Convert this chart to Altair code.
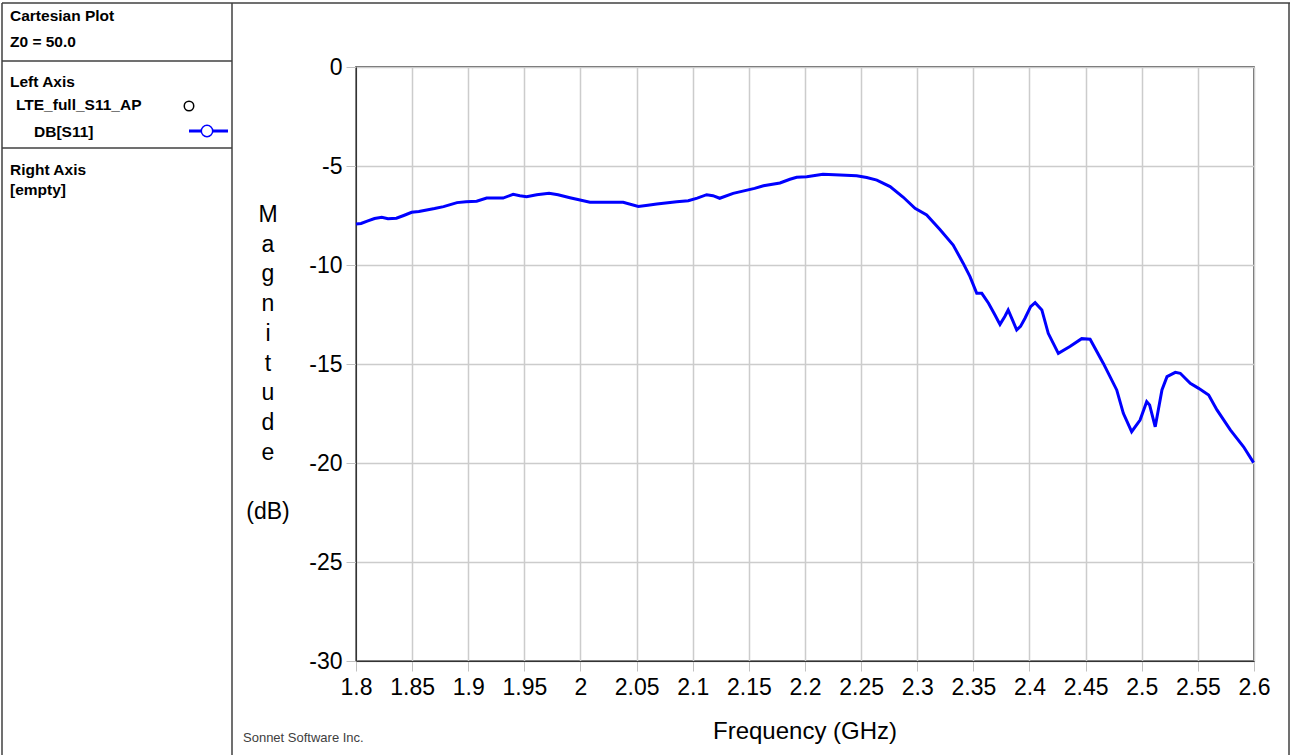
import altair as alt
import pandas as pd

# S11 magnitude of LTE_full_S11_AP, frequency in GHz, magnitude in dB
freq_ghz = [
    1.800, 1.8045, 1.810, 1.8165, 1.823, 1.8285, 1.836, 1.8425, 1.8496, 1.856,
    1.863, 1.870, 1.878, 1.884, 1.890, 1.898, 1.9075, 1.9164, 1.924, 1.931,
    1.940, 1.946, 1.952, 1.961, 1.972, 1.980, 1.9906, 1.9966, 2.0084, 2.020,
    2.038, 2.0515, 2.060, 2.068, 2.0857, 2.096, 2.104, 2.1124, 2.118, 2.124,
    2.136, 2.1551, 2.163, 2.1777, 2.1866, 2.1926, 2.2015, 2.216, 2.2312, 2.246,
    2.255, 2.264, 2.2758, 2.2876, 2.298, 2.3084, 2.32, 2.332, 2.341, 2.347,
    2.353, 2.3575, 2.3635, 2.369, 2.3737, 2.378, 2.381, 2.385, 2.3886, 2.392,
    2.396, 2.401, 2.405, 2.411, 2.4167, 2.4257, 2.436, 2.4465, 2.454, 2.4658,
    2.4777, 2.4836, 2.491, 2.4985, 2.5044, 2.507, 2.512, 2.518, 2.5225, 2.5299,
    2.5343, 2.5432, 2.5507, 2.5596, 2.567, 2.5789, 2.5907, 2.5996,
]
s11_db = [
    -7.93, -7.90, -7.78, -7.65, -7.59, -7.66, -7.64, -7.50, -7.34, -7.30,
    -7.22, -7.15, -7.05, -6.95, -6.85, -6.80, -6.78, -6.62, -6.62, -6.62,
    -6.43, -6.50, -6.55, -6.45, -6.38, -6.45, -6.60, -6.68, -6.83, -6.83,
    -6.83, -7.04, -6.98, -6.92, -6.80, -6.75, -6.62, -6.45, -6.50, -6.63,
    -6.38, -6.13, -6.00, -5.86, -5.67, -5.57, -5.54, -5.42, -5.45, -5.49,
    -5.58, -5.71, -6.04, -6.58, -7.14, -7.47, -8.20, -8.99, -9.92, -10.59,
    -11.43, -11.43, -11.93, -12.50, -13.00, -12.60, -12.27, -12.80, -13.28, -13.10,
    -12.69, -12.10, -11.90, -12.27, -13.45, -14.46, -14.12, -13.72, -13.75, -14.97,
    -16.31, -17.49, -18.42, -17.83, -16.90, -17.07, -18.17, -16.31, -15.64, -15.42,
    -15.47, -15.98, -16.23, -16.57, -17.32, -18.33, -19.18, -19.98,
]

x_ticks = [1.8, 1.85, 1.9, 1.95, 2.0, 2.05, 2.1, 2.15, 2.2, 2.25,
           2.3, 2.35, 2.4, 2.45, 2.5, 2.55, 2.6]
y_ticks = [0, -5, -10, -15, -20, -25, -30]

W, H = 898, 594          # plot area
LEFT, TOP = 356, 67      # plot area offset inside the page
FONT = "Liberation Sans"

df = pd.DataFrame({"freq": freq_ghz, "db": s11_db})

axis_style = dict(title=None, labelFontSize=23, labelFont=FONT,
                  labelColor="black", tickSize=10, tickColor="#c0c0c0",
                  domainColor="#333333", gridColor="#cccccc", gridWidth=1.5,
                  labelFlush=False)

curve = alt.Chart(df).mark_line(color="#0000ff", strokeWidth=3).encode(
    x=alt.X("freq:Q",
            scale=alt.Scale(domain=[1.8, 2.6], nice=False, zero=False),
            axis=alt.Axis(values=x_ticks, format=".2~f", labelPadding=5,
                          **axis_style)),
    y=alt.Y("db:Q",
            scale=alt.Scale(domain=[-30, 0], nice=False),
            axis=alt.Axis(values=y_ticks, labelExpr="'' + datum.value",
                          labelPadding=4, **axis_style)),
)

one_row = alt.Data(values=[{}])


def px(x):
    return x - LEFT


def py(y):
    return y - TOP


def label(text, x, y, size=15.5, bold=True, align="left",
          baseline="alphabetic", color="black", line_height=None):
    kw = dict(align=align, baseline=baseline, fontSize=size,
              fontWeight="bold" if bold else "normal", font=FONT, color=color)
    if line_height is not None:
        kw["lineHeight"] = line_height
    return alt.Chart(one_row).mark_text(**kw).encode(
        x=alt.value(px(x)), y=alt.value(py(y)), text=alt.value(text))


def hline(x1, x2, y, color="#404040", width=1.5):
    return alt.Chart(one_row).mark_rule(color=color, strokeWidth=width).encode(
        x=alt.value(px(x1)), x2=alt.value(px(x2)), y=alt.value(py(y)))


def vline(x, y1, y2, color="#404040", width=1.5):
    return alt.Chart(one_row).mark_rule(color=color, strokeWidth=width).encode(
        x=alt.value(px(x)), y=alt.value(py(y1)), y2=alt.value(py(y2)))


def marker(x, y, color, size):
    return alt.Chart(one_row).mark_point(
        shape="circle", filled=True, fill="white", stroke=color,
        strokeWidth=1.5, size=size, opacity=1).encode(
        x=alt.value(px(x)), y=alt.value(py(y)))


layers = [
    # frame of the window and side panel
    hline(2, 1290, 3),
    vline(2, 3, 755),
    vline(1289, 3, 755),
    vline(232, 3, 755),
    hline(2, 232, 61),
    hline(2, 232, 148),
    # side panel text
    label("Cartesian Plot", 10, 21),
    label("Z0 = 50.0", 10, 47),
    label("Left Axis", 10, 87),
    label("LTE_full_S11_AP", 16, 110),
    label("DB[S11]", 34, 137),
    label("Right Axis", 10, 175),
    label("[empty]", 10, 195),
    marker(189, 106, "black", 90),
    alt.Chart(one_row).mark_rule(color="#0000ff", strokeWidth=3).encode(
        x=alt.value(px(189)), x2=alt.value(px(228)), y=alt.value(py(131))),
    marker(207, 131, "#0000ff", 130),
    # axis titles: stacked letters, then the unit below a gap
    label(list("Magnitude"), 268, 215, size=23, bold=False, align="center",
          baseline="middle", line_height=29.7),
    label("(dB)", 268, 512, size=23, bold=False, align="center",
          baseline="middle"),
    label("Frequency (GHz)", 805, 732, size=24, bold=False, align="center",
          baseline="middle"),
    label("Sonnet Software Inc.", 243, 742, size=13, bold=False,
          color="#404040"),
    curve,
]

chart = alt.layer(*layers).properties(
    width=W, height=H,
    padding={"left": LEFT, "top": TOP, "right": 1292 - LEFT - W,
             "bottom": 755 - TOP - H},
    autosize=alt.AutoSizeParams(type="none"),
    background="white",
).configure_view(stroke="#333333", strokeWidth=1.5)

chart.save("out.html", embed_options={"renderer": "svg", "actions": False})
